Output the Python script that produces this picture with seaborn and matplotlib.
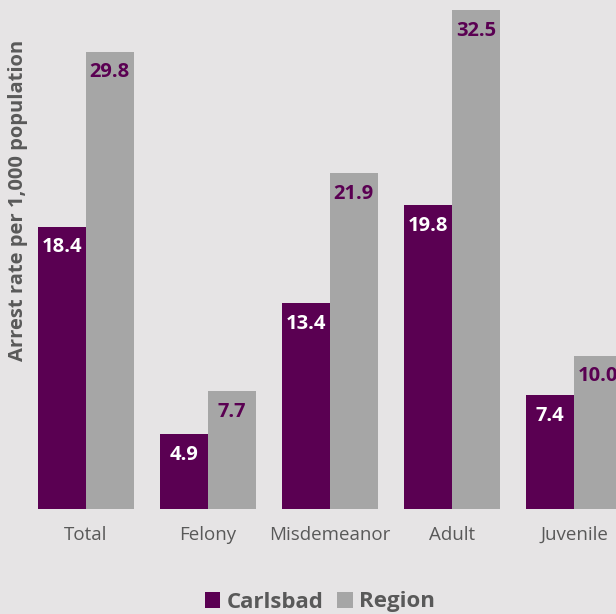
import pandas as pd
import matplotlib.pyplot as plt
import seaborn as sns

categories = ["Total", "Felony", "Misdemeanor", "Adult", "Juvenile"]
carlsbad = [18.4, 4.9, 13.4, 19.8, 7.4]
region = [29.8, 7.7, 21.9, 32.5, 10.0]
series = ["Carlsbad", "Region"]

purple = "#5a0052"
grey = "#a6a6a6"
bg = "#e6e4e5"
text_grey = "#595959"

df = pd.DataFrame({
    "category": categories * 2,
    "series": ["Carlsbad"] * len(categories) + ["Region"] * len(categories),
    "rate": carlsbad + region,
})

sns.set_theme(style="white")
plt.rcParams["font.family"] = ["Open Sans", "DejaVu Sans"]

fig = plt.figure(figsize=(6.16, 6.14), dpi=100, facecolor=bg)
ax = fig.add_axes([0, 105 / 614, 1, 509 / 614])
ax.set_facecolor(bg)

sns.barplot(data=df, x="category", y="rate", hue="series", order=categories,
            hue_order=series, palette=[purple, grey], width=0.78, saturation=1,
            linewidth=0, ax=ax, legend=True)

ax.set_xlim(-86 / 122, (616 - 86) / 122)
ax.set_ylim(0, 509 / 15.35)
ax.set_yticks([])
ax.set_xlabel("")
ax.set_ylabel("")
for s in ax.spines.values():
    s.set_visible(False)
ax.tick_params(axis="x", length=0, pad=12, labelsize=13.5, labelcolor=text_grey)

label_colors = ["white", purple]
for cont, col in zip(ax.containers, label_colors):
    for bar in cont:
        h = bar.get_height()
        ax.annotate(f"{h:.1f}", (bar.get_x() + bar.get_width() / 2, h),
                    xytext=(0, -15), textcoords="offset points",
                    ha="center", va="center", color=col,
                    fontsize=14.5, fontweight="bold", clip_on=False)

fig.text(18 / 616, 1 - 200 / 614, "Arrest rate per 1,000 population",
         rotation=90, ha="center", va="center", color=text_grey,
         fontsize=14.5, fontweight="bold")

handles, labels = ax.get_legend_handles_labels()
ax.get_legend().remove()
fig.legend(handles, labels, loc="center", bbox_to_anchor=(320 / 616, 1 - 602 / 614),
           ncol=2, frameon=False, handlelength=0.7, handleheight=0.7,
           handletextpad=0.3, columnspacing=0.6,
           prop={"size": 16, "weight": "bold"}, labelcolor=text_grey)

fig.savefig("out.png", dpi=100, facecolor=bg)
